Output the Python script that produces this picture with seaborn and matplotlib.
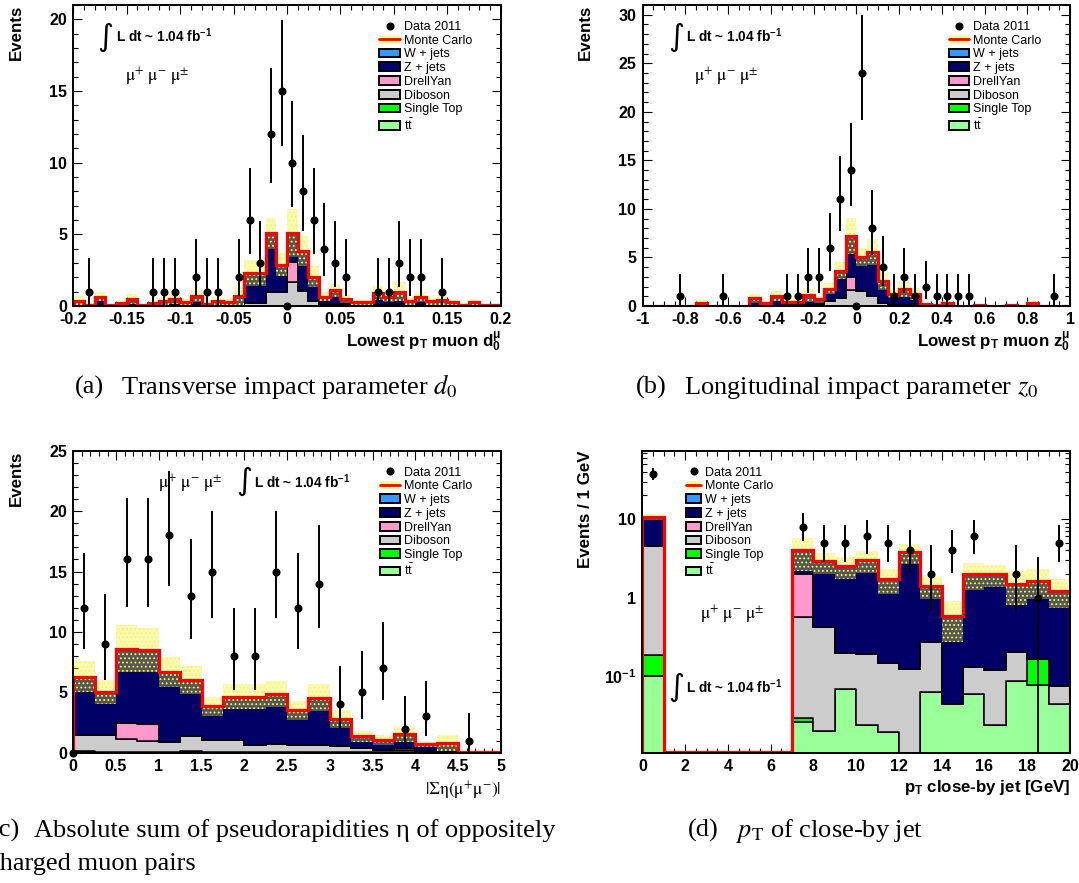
import numpy as np
import pandas as pd
import matplotlib
matplotlib.use("Agg")
import matplotlib.pyplot as plt
import seaborn as sns
from matplotlib.patches import Patch
from matplotlib.lines import Line2D
from matplotlib.ticker import (MultipleLocator, FuncFormatter, FixedLocator,
                               FixedFormatter, LogLocator, NullFormatter)

# ---------------------------------------------------------------- data ----
PROCESSES = ["wjets", "zjets", "dy", "diboson", "stop", "ttbar"]
LABELS = {"wjets": "W + jets", "zjets": "Z + jets", "dy": "DrellYan",
          "diboson": "Diboson", "stop": "Single Top", "ttbar": r"$\mathrm{t\bar{t}}$"}
COLORS = {"wjets": "#3399ff", "zjets": "#000066", "dy": "#ff99cc",
          "diboson": "#cccccc", "stop": "#00ff00", "ttbar": "#99ff99"}

# (a) transverse impact parameter d0 of the lowest-pT muon, 40 bins in [-0.2, 0.2]
d0_edges = np.linspace(-0.2, 0.2, 41)
d0_data = [0, 1, 0, 0, 0, 0, 0, 1, 1, 1, 0, 2, 1, 1, 0, 2, 6, 3, 12, 15,
           10, 8, 6, 4, 3, 2, 0, 0, 1, 1, 3, 2, 2, 0, 1, 0, 0, 0, 0, 0]
d0_wjets = [0.0] * 40
d0_zjets = [.32, .09, .59, .04, .19, .46, .04, .17, .29, .41, .24, .64, .12, .24, .24, .62,
            2.12, 2.12, 4.07, 1.87, 2.05, 2.70, 1.70, .52, .95, .39, .22, .22, .84, .59,
            .89, .29, .51, .29, .34, .22, .09, .22, .04, .04]
d0_dy = [0] * 20 + [1.4, 0.1] + [0] * 18
d0_diboson = [.02, 0, .05, 0, 0, .03, 0, .02, .05, .08, .05, .05, .02, .1, .05, .05,
              .15, .15, .97, .97, 1.62, 1.02, .32, .1, .12, .1, .02, .02, .05, .05,
              .1, .05, .08, .05, .05, .02, 0, .02, 0, 0]
d0_stop = [0.0] * 40
d0_ttbar = [.01] * 15 + [.03] * 10 + [.01] * 15
d0_mcerr = [.35, .1, .3, .05, .15, .35, .05, .15, .3, .35, .2, .45, .1, .25, .2, .6,
            .9, .9, 1.1, .8, 1.65, 1.05, .75, .3, .45, .3, .15, .15, .5, .35,
            .65, .25, .35, .25, .35, .15, .1, .2, .05, .05]
d0_zero_entry = [0.0]

# (b) longitudinal impact parameter z0, 40 bins in [-1, 1]
z0_edges = np.linspace(-1.0, 1.0, 41)
z0_data = [0, 0, 0, 1, 0, 0, 0, 1, 0, 0, 0, 0, 0, 1, 1, 3, 3, 6, 11, 14,
           24, 8, 4, 1, 3, 1, 2, 1, 1, 1, 1, 0, 0, 0, 0, 0, 0, 0, 1, 0]
z0_wjets = [0.0] * 40
z0_zjets = [.01, .01, .01, .01, .01, .33, .02, .02, .02, .05, .75, .33, .95, .40, .40, 1.0,
            .53, 1.33, 2.83, 4.3, 3.47, 4.52, 2.33, 1.13, 1.58, 1.18, .18, .1, .33, .03,
            .03, .08, .03, .03, .08, .03, .28, .03, .03, .03]
z0_dy = [0] * 19 + [1.3] + [0] * 20
z0_diboson = [0, 0, 0, 0, 0, .02, 0, 0, 0, 0, .05, .02, .05, .05, .05, .08,
              .15, .45, .8, 1.63, 1.56, 1.01, .25, .1, .1, .05, .02, 0, .02, 0,
              0, 0, 0, 0, 0, 0, .02, 0, 0, 0]
z0_stop = [0.0] * 40
z0_ttbar = [0] * 15 + [.02] * 11 + [0] * 14
z0_mcerr = [.01, .01, .01, .01, .01, .25, .02, .02, .02, .05, .45, .2, .5, .25, .25, .7,
            .35, .55, .9, 1.85, .9, 1.35, .95, .4, .8, .65, .15, .1, .2, .03,
            .03, .08, .03, .03, .08, .03, .2, .03, .03, .03]
z0_zero_entry = [0.0]

# (c) |sum of eta| of the opposite-sign muon pair, 20 bins in [0, 5]
eta_edges = np.linspace(0.0, 5.0, 21)
eta_data = [12, 9, 16, 16, 18, 13, 15, 8, 8, 15, 12, 14, 4, 5, 7, 2, 3, 0, 1, 0]
eta_wjets = [0.0] * 20
eta_zjets = [4.8, 3.55, 6.1, 6.1, 5.8, 4.65, 2.8, 3.6, 4.0, 4.1,
             2.85, 3.9, 2.25, 1.0, .85, 1.2, .55, .7, .03, .02]
eta_dy = [0, 0, 1.4, 1.4, 0, 0, 0, 0, 0, 0, 0, 0, 0, 0, 0, .15, 0, 0, 0, 0]
eta_diboson = [1.4, 1.37, 1.05, .95, .77, 1.3, 1.0, 1.0, .62, .72,
               .62, .62, .53, .33, .18, .18, .14, .09, .02, 0]
eta_stop = [0.0] * 20
eta_ttbar = [.1, .08, .05, .05, .08, .1, .05, .05, .03, .03,
             .03, .03, .02, .02, .02, .02, .01, .01, 0, 0]
eta_mcerr = [1.3, 1.0, 1.95, 1.8, 1.25, 1.15, .8, 1.05, 1.05, 1.05,
             .8, 1.1, .75, .45, .4, .7, .2, .65, .02, .01]
eta_zero_entry = [0.0]

# (d) pT of the close-by jet, 20 bins of 1 GeV
jet_edges = np.linspace(0.0, 20.0, 21)
jet_data = [38, 0, 0, 0, 0, 0, 0, 8, 5, 5, 6, 5, 4, 2, 4, 6, 0, 2, 1, 5]
jet_wjets = [0.0] * 20
jet_zjets = [6.1, 0, 0, 0, 0, 0, 0, 2.02, 2.46, 2.3, 2.78, 1.565, 3.63, 1.15, .545, 1.87,
             1.86, 1.28, 1.465, 1.145]
jet_dy = [0, 0, 0, 0, 0, 0, 0, 1.42, 0, 0, 0, 0, 0, 0, 0, 0, 0, 0, 0, 0]
jet_diboson = [4.32, 0, 0, 0, 0, 0, 0, .53, .40, .126, .165, .126, .122, .204, 0, .072,
               .095, .115, 0, .030]
jet_stop = [.084, 0, 0, 0, 0, 0, 0, .003, 0, 0, 0, 0, 0, 0, 0, 0, 0, 0, .089, 0]
jet_ttbar = [.1, 0, 0, 0, 0, 0, 0, .026, .02, .069, .024, .0195, 0, .063, .044, .059,
             .0237, .085, .076, .044]
jet_mcerr = [1.0, 0, 0, 0, 0, 0, 0, 1.8, .87, .78, .9, .59, 1.05, .47, .32, .74,
             .61, .67, .67, .49]

# --------------------------------------------------------------- style ----
sns.set_style("ticks")
plt.rcParams.update({
    "font.family": ["Liberation Sans", "DejaVu Sans"],
    "font.weight": "normal",
    "text.color": "black",
    "axes.edgecolor": "black",
    "axes.labelcolor": "black",
    "axes.linewidth": 1.4,
    "axes.unicode_minus": False,
    "mathtext.fontset": "custom",
    "mathtext.rm": "Liberation Sans",
    "mathtext.it": "Liberation Sans:italic",
    "mathtext.bf": "Liberation Sans:bold",
    "xtick.color": "black", "ytick.color": "black",
    "xtick.direction": "in", "ytick.direction": "in",
    "xtick.top": True, "ytick.right": True,
    "xtick.major.size": 6.7, "ytick.major.size": 6.7,
    "xtick.minor.size": 3.4, "ytick.minor.size": 3.4,
    "xtick.major.width": 0.8, "ytick.major.width": 0.8,
    "xtick.minor.width": 0.8, "ytick.minor.width": 0.8,
    "xtick.labelsize": 11.5, "ytick.labelsize": 11.5,
    "xtick.major.pad": 4.5, "ytick.major.pad": 4.5,
    "hatch.linewidth": 0.8,
})

BAND_FACE = (0.92, 0.92, 0.3, 0.36)
BAND_HATCH = "#ffff33"
LEGEND_FONT = {"family": "Liberation Sans", "weight": "normal", "size": 9.0}


def stack_frame(edges, comps):
    centers = 0.5 * (edges[:-1] + edges[1:])
    frames = [pd.DataFrame({"center": centers, "value": np.asarray(v, float), "process": k})
              for k, v in comps.items()]
    return pd.concat(frames, ignore_index=True)


def poisson_bars(n):
    n = np.asarray(n, float)
    hi = np.sqrt(n + 0.75) + 1.0
    lo = np.where(n > 1, np.sqrt(np.clip(n - 0.25, 0, None)), n)
    return lo, hi


def number_fmt(v, _pos):
    v = round(v, 6)
    if v == 0:
        return "0"
    return f"{v:g}"


def draw_panel(ax, edges, comps, data, mcerr, zero_entry=None, log=False, ymin=0.0):
    df = stack_frame(edges, comps)
    sns.histplot(data=df, x="center", weights="value", hue="process",
                 hue_order=PROCESSES, palette=COLORS, multiple="stack",
                 bins=[float(e) for e in edges], element="step", fill=True, alpha=1,
                 edgecolor="black", linewidth=1.1, legend=False, ax=ax)
    total = np.sum([np.asarray(v, float) for v in comps.values()], axis=0)
    err = np.asarray(mcerr, float)
    lower = total - err
    upper = total + err
    if log:
        lower = np.maximum(lower, ymin)
        upper = np.maximum(upper, ymin)
    ax.stairs(upper, edges, baseline=lower, fill=True, facecolor=BAND_FACE,
              edgecolor=BAND_HATCH, hatch="....", linewidth=0, zorder=3)
    line_vals = np.maximum(total, ymin * 1.03) if log else total
    ax.stairs(line_vals, edges, baseline=(ymin if log else 0), color="red",
              linewidth=2.3, zorder=4)
    n = np.asarray(data, float)
    centers = 0.5 * (edges[:-1] + edges[1:])
    lo, hi = poisson_bars(n)
    m = n > 0
    ax.errorbar(centers[m], n[m], yerr=[lo[m], hi[m]], fmt="o", color="black",
                ms=4.8, elinewidth=1.4, capsize=0, zorder=6)
    if zero_entry is not None:
        ax.plot(zero_entry, [0.0] * len(zero_entry), "o", color="black", ms=4.8,
                zorder=7, clip_on=False)
    ax.set_xlim(edges[0], edges[-1])
    ax.set_xlabel("")
    ax.set_ylabel("")


def add_legend(ax, x, y, handlelength):
    handles = [Line2D([], [], marker="o", color="black", ls="none", ms=4.8),
               (Patch(facecolor=BAND_FACE, edgecolor=BAND_HATCH, hatch="....", linewidth=0),
                Line2D([], [], color="red", linewidth=2.0))]
    labels = ["Data 2011", "Monte Carlo"]
    for p in PROCESSES:
        handles.append(Patch(facecolor=COLORS[p], edgecolor="black", linewidth=1.4))
        labels.append(LABELS[p])
    ax.legend(handles, labels, loc="upper left", bbox_to_anchor=(x, y),
              frameon=False, borderpad=0, borderaxespad=0,
              handlelength=handlelength, handleheight=0.7, handletextpad=0.32,
              labelspacing=0.14, prop=LEGEND_FONT)


def lumi_text(ax, x_int, x_txt, y_int, y_txt):
    ax.text(x_int, y_int, "\u222b", transform=ax.transAxes, ha="center",
            va="center", fontsize=22, fontfamily="DejaVu Sans", fontweight="normal")
    ax.text(x_txt, y_txt, r"L dt ~ 1.04 fb$^{\mathbf{-1}}$", transform=ax.transAxes,
            ha="left", va="baseline", fontsize=9.8, fontweight="bold")


def channel_text(ax, x, y):
    ax.text(x, y, r"$\mathrm{\mu}^{+}\ \mathrm{\mu}^{-}\ \mathrm{\mu}^{\pm}$",
            transform=ax.transAxes, ha="left", va="baseline", fontsize=12.5,
            math_fontfamily="stix", fontweight="normal")


def ylabel(ax, x, s):
    ax.text(x, 1.0, s, transform=ax.transAxes, rotation=90, ha="center", va="top",
            fontsize=12.2, fontweight="bold")


def xlabel(ax, y, s, **kw):
    opts = dict(fontsize=12.2, fontweight="bold")
    opts.update(kw)
    ax.text(1.0, y, s, transform=ax.transAxes, ha="right", va="baseline", **opts)


# -------------------------------------------------------------- figure ----
fig = plt.figure(figsize=(10.79, 8.83), dpi=100)
W = 427.5 / 1079
ax_a = fig.add_axes([73.3 / 1079, 1 - 306 / 883, W, 301 / 883])
ax_b = fig.add_axes([642.6 / 1079, 1 - 306 / 883, W, 301 / 883])
ax_c = fig.add_axes([73.3 / 1079, 1 - 752.7 / 883, W, 302 / 883])
ax_d = fig.add_axes([642.4 / 1079, 1 - 752.7 / 883, W, 302 / 883])

# (a)
draw_panel(ax_a, d0_edges,
           dict(wjets=d0_wjets, zjets=d0_zjets, dy=d0_dy, diboson=d0_diboson,
                stop=d0_stop, ttbar=d0_ttbar),
           d0_data, d0_mcerr, zero_entry=d0_zero_entry)
ax_a.set_ylim(0, 21)
ax_a.xaxis.set_major_locator(MultipleLocator(0.05))
ax_a.xaxis.set_minor_locator(MultipleLocator(0.01))
ax_a.yaxis.set_major_locator(MultipleLocator(5))
ax_a.yaxis.set_minor_locator(MultipleLocator(1))
ax_a.xaxis.set_major_formatter(FuncFormatter(number_fmt))
add_legend(ax_a, 0.716, 0.947, 1.65)
lumi_text(ax_a, 0.074, 0.101, 0.892, 0.878)
channel_text(ax_a, 0.122, 0.745)
ylabel(ax_a, -0.133, "Events")
xlabel(ax_a, -0.137, r"Lowest p$_{\mathbf{T}}$ muon d$_{\mathbf{0}}^{\mathbf{\mu}}$")

# (b)
draw_panel(ax_b, z0_edges,
           dict(wjets=z0_wjets, zjets=z0_zjets, dy=z0_dy, diboson=z0_diboson,
                stop=z0_stop, ttbar=z0_ttbar),
           z0_data, z0_mcerr, zero_entry=z0_zero_entry)
ax_b.set_ylim(0, 31)
ax_b.xaxis.set_major_locator(MultipleLocator(0.2))
ax_b.xaxis.set_minor_locator(MultipleLocator(0.05))
ax_b.yaxis.set_major_locator(MultipleLocator(5))
ax_b.yaxis.set_minor_locator(MultipleLocator(1))
ax_b.xaxis.set_major_formatter(FuncFormatter(number_fmt))
add_legend(ax_b, 0.716, 0.947, 1.65)
lumi_text(ax_b, 0.078, 0.102, 0.892, 0.878)
channel_text(ax_b, 0.121, 0.745)
ylabel(ax_b, -0.135, "Events")
xlabel(ax_b, -0.137, r"Lowest p$_{\mathbf{T}}$ muon z$_{\mathbf{0}}^{\mathbf{\mu}}$")

# (c)
draw_panel(ax_c, eta_edges,
           dict(wjets=eta_wjets, zjets=eta_zjets, dy=eta_dy, diboson=eta_diboson,
                stop=eta_stop, ttbar=eta_ttbar),
           eta_data, eta_mcerr, zero_entry=eta_zero_entry)
ax_c.set_ylim(0, 25)
ax_c.xaxis.set_major_locator(MultipleLocator(0.5))
ax_c.xaxis.set_minor_locator(MultipleLocator(0.1))
ax_c.yaxis.set_major_locator(MultipleLocator(5))
ax_c.yaxis.set_minor_locator(MultipleLocator(1))
ax_c.xaxis.set_major_formatter(FuncFormatter(number_fmt))
add_legend(ax_c, 0.717, 0.947, 1.65)
lumi_text(ax_c, 0.399, 0.4226, 0.90, 0.876)
channel_text(ax_c, 0.198, 0.876)
ylabel(ax_c, -0.132, "Events")
xlabel(ax_c, -0.14, r"$|\mathrm{\Sigma\eta}(\mathrm{\mu}^{+}\mathrm{\mu}^{-})|$",
       fontsize=12.5, math_fontfamily="stix", fontweight="normal")

# (d)
JET_YMIN = 0.0105
draw_panel(ax_d, jet_edges,
           dict(wjets=jet_wjets, zjets=jet_zjets, dy=jet_dy, diboson=jet_diboson,
                stop=jet_stop, ttbar=jet_ttbar),
           jet_data, jet_mcerr, log=True, ymin=JET_YMIN)
ax_d.set_yscale("log")
ax_d.set_ylim(JET_YMIN, 74.5)
ax_d.xaxis.set_major_locator(MultipleLocator(2))
ax_d.xaxis.set_minor_locator(MultipleLocator(0.5))
ax_d.xaxis.set_major_formatter(FuncFormatter(number_fmt))
ax_d.yaxis.set_major_locator(FixedLocator([0.1, 1, 10]))
ax_d.yaxis.set_major_formatter(FixedFormatter([r"10$^{\mathbf{-1}}$", "1", "10"]))
ax_d.yaxis.set_minor_locator(LogLocator(base=10, subs=np.arange(2, 10)))
ax_d.yaxis.set_minor_formatter(NullFormatter())
add_legend(ax_d, 0.102, 0.947, 1.2)
lumi_text(ax_d, 0.078, 0.102, 0.216, 0.197)
channel_text(ax_d, 0.134, 0.44)
ylabel(ax_d, -0.134, "Events / 1 GeV")
xlabel(ax_d, -0.129, r"p$_{\mathbf{T}}$ close-by jet [GeV]")

for ax in (ax_a, ax_b, ax_c, ax_d):
    ax.tick_params(which="both", top=True, right=True, direction="in")
    for s in ax.spines.values():
        s.set_zorder(5)

# ------------------------------------------------------------- captions ----
CAP = dict(fontfamily="Liberation Serif", fontweight="normal", fontsize=19,
           math_fontfamily="stix", va="baseline", ha="left")


def caption(x_label, x_text, y, label, text):
    fig.text(x_label / 1079, 1 - y / 883, label, **CAP)
    fig.text(x_text / 1079, 1 - y / 883, text, **CAP)


caption(75, 121, 394, "(a)", r"Transverse impact parameter $d_0$")
caption(636, 684, 394, "(b)", r"Longitudinal impact parameter $z_0$")
caption(-9, 34, 837, "(c)", r"Absolute sum of pseudorapidities η of oppositely")
fig.text(-11.5 / 1079, 1 - 870 / 883, "charged muon pairs", **CAP)
caption(688, 736, 837, "(d)", r"$p_{\mathrm{T}}$ of close-by jet")

# bold tick numbers, as in the usual ROOT style
fig.canvas.draw()
for ax in (ax_a, ax_b, ax_c, ax_d):
    for lbl in ax.get_xticklabels() + ax.get_yticklabels():
        lbl.set_fontweight("bold")

fig.savefig("out.png", dpi=100)
